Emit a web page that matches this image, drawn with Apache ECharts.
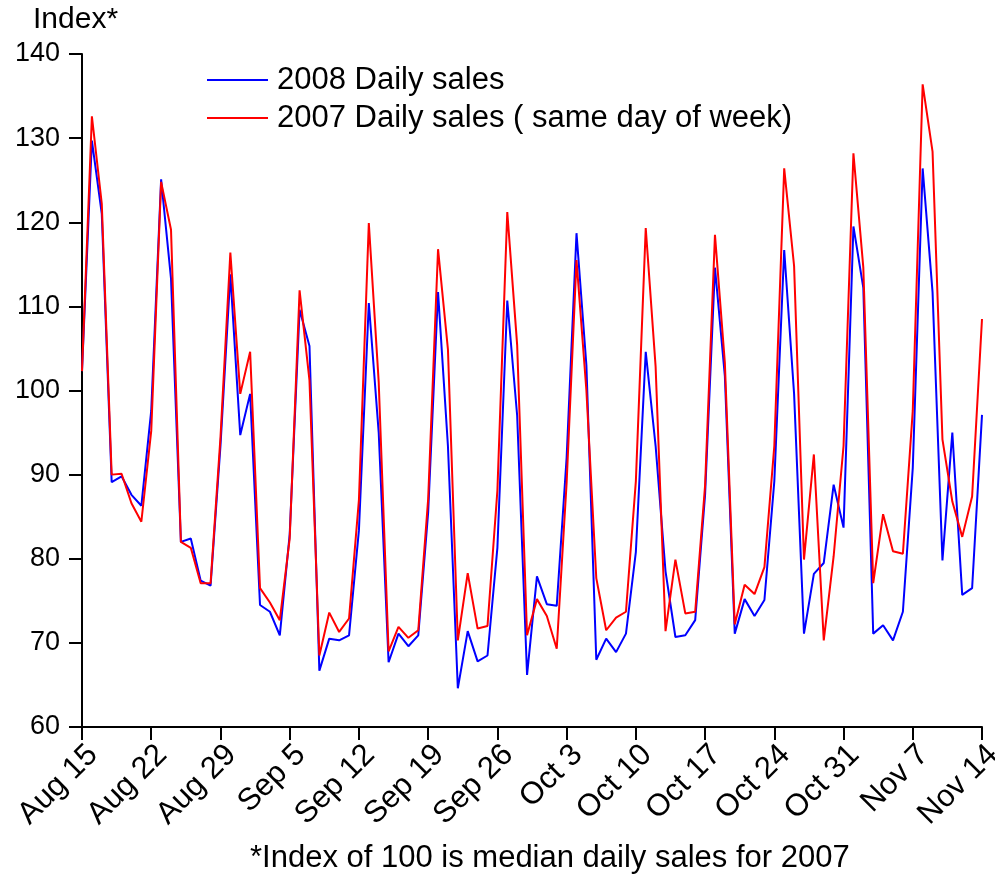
<!DOCTYPE html>
<html>
<head>
<meta charset="utf-8">
<script src="https://cdn.jsdelivr.net/npm/echarts@6/dist/echarts.min.js"></script>
<style>
  html, body { margin: 0; padding: 0; background: #fff; }
  #chart { width: 995px; height: 880px; }
</style>
</head>
<body>
<div id="chart"></div>
<script>
// daily index, Aug 15 .. Nov 14 (92 days)
const startDate = { month: 7, day: 15 }
const dayCount = 92
const monthNames = ['Jan', 'Feb', 'Mar', 'Apr', 'May', 'Jun', 'Jul', 'Aug', 'Sep', 'Oct', 'Nov', 'Dec']

const sales2008 = [
  102.3, 129.7, 121.0, 89.1, 89.8, 87.6, 86.3,
  97.6, 125.1, 113.3, 82.0, 82.4, 77.4, 76.8,
  93.4, 113.8, 94.7, 99.6, 74.5, 73.7, 70.9,
  82.9, 109.6, 105.3, 66.7, 70.5, 70.3, 70.9,
  83.4, 110.4, 95.0, 67.7, 71.1, 69.6, 70.9,
  85.5, 111.7, 93.4, 64.6, 71.4, 67.8, 68.5,
  81.3, 110.7, 97.0, 66.2, 77.9, 74.6, 74.4,
  92.0, 118.7, 103.0, 68.0, 70.5, 68.9, 71.1,
  80.8, 104.6, 93.4, 78.5, 70.7, 70.9, 72.7,
  87.6, 114.6, 101.7, 71.1, 75.2, 73.2, 75.1,
  89.2, 116.7, 99.6, 71.1, 78.2, 79.5, 88.8,
  83.7, 119.5, 112.2, 71.1, 72.1, 70.3, 73.7,
  90.8, 126.4, 111.7, 79.8, 95.0, 75.7, 76.5,
  97.1
]

const sales2007 = [
  102.3, 132.6, 122.2, 90.0, 90.1, 86.6, 84.4,
  95.2, 124.8, 119.1, 82.0, 81.3, 77.1, 77.1,
  94.4, 116.4, 99.6, 104.6, 76.5, 74.8, 72.7,
  82.4, 111.9, 101.2, 68.5, 73.6, 71.3, 72.9,
  87.0, 119.9, 101.0, 69.0, 71.9, 70.6, 71.5,
  87.1, 116.8, 104.9, 70.3, 78.3, 71.7, 72.0,
  88.1, 121.2, 105.4, 70.9, 75.2, 73.2, 69.3,
  89.0, 115.5, 100.0, 77.7, 71.5, 73.0, 73.7,
  89.2, 119.3, 102.8, 71.4, 79.9, 73.5, 73.7,
  88.7, 118.5, 103.3, 72.2, 76.9, 75.8, 79.0,
  93.4, 126.4, 114.8, 79.9, 92.4, 70.3, 80.3,
  93.4, 128.2, 114.6, 77.1, 85.3, 80.9, 80.6,
  97.6, 136.4, 128.4, 94.2, 86.8, 82.6, 87.4,
  108.5
]

const yTicks = { min: 60, max: 140, step: 10 }
const seriesNames = ['2008 Daily sales', '2007 Daily sales ( same day of week)']

let days = []
for (let i = 0; i < dayCount; i++) {
  let d = new Date(2008, startDate.month, startDate.day + i)
  days.push(monthNames[d.getMonth()] + ' ' + d.getDate())
}

const font = 'Liberation Sans, Arial, sans-serif'
let myChart = echarts.init(document.getElementById('chart'))

let option = {
  animation: false,
  backgroundColor: '#fff',
  textStyle: { fontFamily: font },
  grid: { left: 82, right: 13, top: 54, bottom: 153, containLabel: false, outerBoundsMode: 'none' },
  legend: {
    orient: 'vertical',
    left: 202,
    top: 58,
    icon: 'rect',
    itemWidth: 61,
    itemHeight: 2,
    itemGap: 4,
    data: seriesNames,
    textStyle: { fontSize: 31, lineHeight: 34, color: '#000', fontFamily: font, padding: [0, 0, 0, 4] }
  },
  graphic: [
    {
      type: 'text', left: 33, top: 5,
      style: { text: 'Index*', fontSize: 30, fill: '#000', fontFamily: font }
    },
    {
      type: 'text', left: 250, top: 843,
      style: { text: '*Index of 100 is median daily sales for 2007', fontSize: 31, fill: '#000', fontFamily: font }
    }
  ],
  xAxis: {
    type: 'category',
    data: days,
    boundaryGap: false,
    axisLine: { lineStyle: { color: '#000', width: 2 } },
    axisTick: { interval: 6, length: 13, lineStyle: { color: '#000', width: 2 } },
    axisLabel: {
      interval: 6,
      rotate: 45,
      margin: 12,
      fontSize: 31,
      verticalAlign: 'top',
      color: '#000',
      fontFamily: font
    },
    splitLine: { show: false }
  },
  yAxis: {
    type: 'value',
    min: yTicks.min,
    max: yTicks.max,
    interval: yTicks.step,
    axisLine: { show: true, lineStyle: { color: '#000', width: 2 } },
    axisTick: { show: true, length: 13, lineStyle: { color: '#000', width: 2 } },
    axisLabel: { margin: 22, fontSize: 27, color: '#000', fontFamily: font },
    splitLine: { show: false }
  },
  series: [
    {
      name: seriesNames[0],
      type: 'line',
      data: sales2008,
      symbol: 'none',
      lineStyle: { color: '#0000ff', width: 2 },
      itemStyle: { color: '#0000ff' }
    },
    {
      name: seriesNames[1],
      type: 'line',
      data: sales2007,
      symbol: 'none',
      lineStyle: { color: '#ff0000', width: 2 },
      itemStyle: { color: '#ff0000' }
    }
  ]
}
myChart.setOption(option)
</script>
</body>
</html>
